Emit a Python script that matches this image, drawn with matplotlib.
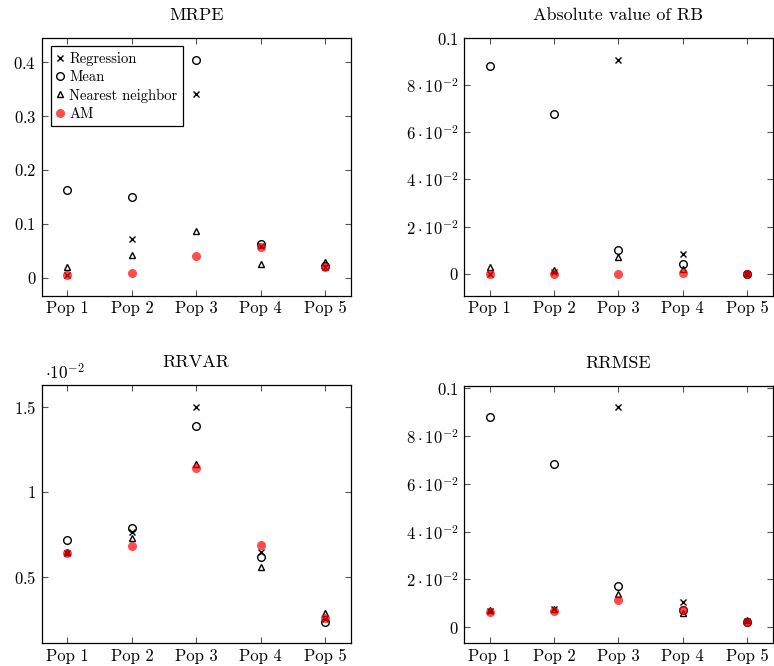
import matplotlib
matplotlib.use("Agg")
import matplotlib.pyplot as plt
from matplotlib.ticker import FixedLocator, FixedFormatter

plt.rcParams["font.family"] = "serif"
plt.rcParams["font.serif"] = ["cmr10"]
plt.rcParams["mathtext.fontset"] = "cm"
plt.rcParams["axes.unicode_minus"] = False
plt.rcParams["axes.formatter.use_mathtext"] = True

pops = ["Pop 1", "Pop 2", "Pop 3", "Pop 4", "Pop 5"]
methods = ["Regression", "Mean", "Nearest neighbor", "AM"]

# MRPE
mrpe_reg = [0.0056, 0.0726, 0.342, 0.059, 0.020]
mrpe_mean = [0.1625, 0.150, 0.404, 0.063, 0.021]
mrpe_nn = [0.020, 0.043, 0.086, 0.025, 0.030]
mrpe_am = [0.0056, 0.0093, 0.041, 0.057, 0.020]

# Absolute value of RB
rb_reg = [0.0, 0.0007, 0.0908, 0.0085, 0.0001]
rb_mean = [0.088, 0.0678, 0.0100, 0.0041, 0.0001]
rb_nn = [0.0030, 0.0015, 0.0072, 0.0020, 0.0003]
rb_am = [0.0, 0.0, 0.0001, 0.0004, 0.0]

# RRVAR
rrvar_reg = [0.00642, 0.00766, 0.0150, 0.00648, 0.00249]
rrvar_mean = [0.00715, 0.00786, 0.01389, 0.00617, 0.00232]
rrvar_nn = [0.00648, 0.00727, 0.01163, 0.00558, 0.00285]
rrvar_am = [0.00638, 0.00684, 0.01143, 0.00688, 0.00255]

# RRMSE
rrmse_reg = [0.0070, 0.0077, 0.0920, 0.0105, 0.0026]
rrmse_mean = [0.0881, 0.0682, 0.0172, 0.0073, 0.0024]
rrmse_nn = [0.0073, 0.0075, 0.0138, 0.0059, 0.0030]
rrmse_am = [0.0063, 0.0067, 0.0114, 0.0073, 0.0022]

sci_ticks = [0, 0.02, 0.04, 0.06, 0.08, 0.1]
sci_labels = [r"$0$", r"$2\cdot10^{-2}$", r"$4\cdot10^{-2}$",
              r"$6\cdot10^{-2}$", r"$8\cdot10^{-2}$", r"$0.1$"]


def panel(ax, title, reg, mean, nn, am, ylim, yticks, ylabels, scale=1.0):
    x = list(range(1, len(pops) + 1))
    ax.plot(x, [v / scale for v in reg], "x", color="black", ms=4.0, mew=1.0,
            ls="none", label=methods[0])
    ax.plot(x, [v / scale for v in mean], "o", mfc="none", mec="black",
            ms=5.5, mew=1.0, ls="none", label=methods[1])
    ax.plot(x, [v / scale for v in nn], "^", mfc="none", mec="black",
            ms=5.0, mew=1.0, ls="none", label=methods[2])
    ax.plot(x, [v / scale for v in am], "o", color="red", alpha=0.7,
            mec="none", ms=6.5, ls="none", label=methods[3])
    ax.set_xlim(0.6, 5.4)
    ax.set_ylim(*ylim)
    ax.set_xticks(x)
    ax.set_xticklabels(pops)
    ax.yaxis.set_major_locator(FixedLocator(yticks))
    ax.yaxis.set_major_formatter(FixedFormatter(ylabels))
    ax.tick_params(direction="in", top=True, right=True, length=4,
                   width=0.8, color="#555555", labelsize=12, pad=4)
    for s in ax.spines.values():
        s.set_linewidth(0.9)
    ax.set_title(title, fontsize=13, pad=13)


fig = plt.figure(figsize=(7.74, 6.66), dpi=100)
ax1 = fig.add_axes([0.0539, 0.5563, 0.3996, 0.3866])
ax2 = fig.add_axes([0.5995, 0.5563, 0.3988, 0.3866])
ax3 = fig.add_axes([0.0539, 0.0341, 0.3996, 0.3878])
ax4 = fig.add_axes([0.5995, 0.0341, 0.3988, 0.3868])

panel(ax1, "MRPE", mrpe_reg, mrpe_mean, mrpe_nn, mrpe_am, (-0.033, 0.445),
      [0, 0.1, 0.2, 0.3, 0.4], [r"$0$", r"$0.1$", r"$0.2$", r"$0.3$", r"$0.4$"])
panel(ax2, "Absolute value of RB", rb_reg, rb_mean, rb_nn, rb_am,
      (-0.0092, 0.1), sci_ticks, sci_labels)
panel(ax3, "RRVAR", rrvar_reg, rrvar_mean, rrvar_nn, rrvar_am, (0.108, 1.63),
      [0.5, 1.0, 1.5], [r"$0.5$", r"$1$", r"$1.5$"], scale=0.01)
panel(ax4, "RRMSE", rrmse_reg, rrmse_mean, rrmse_nn, rrmse_am,
      (-0.0067, 0.1011), sci_ticks, sci_labels)

ax3.text(0.01, 1.01, r"$\cdot10^{-2}$", transform=ax3.transAxes,
         fontsize=12.5, ha="left", va="bottom")

leg = ax1.legend(loc="upper left", bbox_to_anchor=(0.03, 0.969),
                 borderaxespad=0, fancybox=False, edgecolor="black",
                 framealpha=1, fontsize=10.5, handlelength=0.5,
                 handletextpad=0.35, labelspacing=0.3, borderpad=0.4)
leg.get_frame().set_linewidth(0.9)

fig.savefig("out.png", dpi=100)
